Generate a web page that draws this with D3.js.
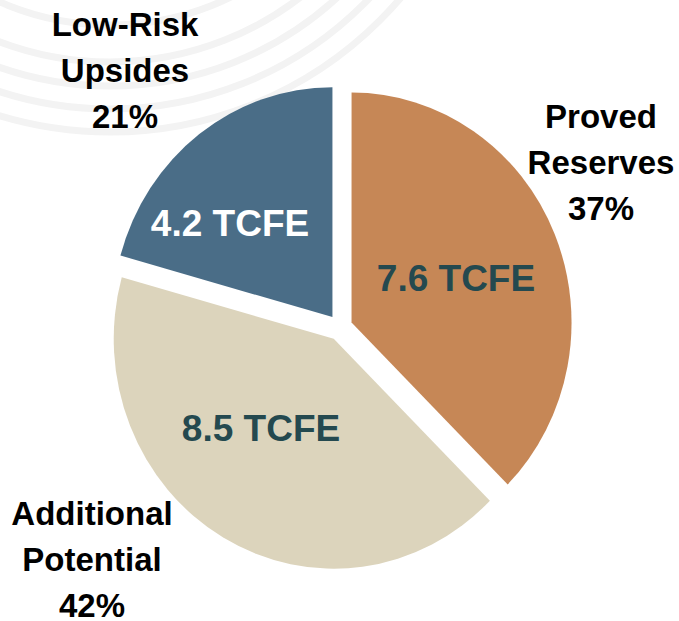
<!DOCTYPE html>
<html lang="en">
<head>
<meta charset="UTF-8">
<title>Resource split</title>
<script src="https://d3js.org/d3.v7.min.js"></script>
<style>
  html, body { margin: 0; padding: 0; background: #fff; }
  svg { display: block; }
  text { font-family: "Liberation Sans", Arial, sans-serif; font-weight: bold; }
</style>
</head>
<body>
<svg width="679" height="621"></svg>
<script>
// data
const categories = ["Proved Reserves", "Additional Potential", "Low-Risk Upsides"];
const volumes = [7.6, 8.5, 4.2];           // TCFE
const shares = [37, 42, 21];               // % labels as printed
const outerLines = [["Proved", "Reserves"], ["Additional", "Potential"], ["Low-Risk", "Upsides"]];

// look
const sliceColors = ["#c68756", "#dcd4bc", "#4a6d87"];
const innerColors = ["#24494f", "#24494f", "#ffffff"];
// label anchors, relative to pie centre
const innerPos = [[116, -37], [-79, 113], [-110, -92]];
const outerPos = [[261, -200], [-248, 197], [-215, -292]];

const svg = d3.select("svg");
const cx = 340, cy = 327.5, r = 220, explode = 12.5;

// faint watermark arcs
const wm = svg.append("g").attr("transform", "translate(110,-250)");
[275, 312, 336, 359, 382].forEach(rad => {
  wm.append("circle").attr("r", rad)
    .attr("fill", "none").attr("stroke", "#f3f3f3").attr("stroke-width", 7);
});

const pie = d3.pie().sort(null).value(d => d.v);
const arcs = pie(categories.map((c, i) => ({ name: c, v: volumes[i], i })));
const arc = d3.arc().innerRadius(0).outerRadius(r);

const g = svg.append("g").attr("transform", `translate(${cx},${cy})`);
const pieG = g.append("g").attr("transform", "scale(1,1.045)");

pieG.selectAll("path")
  .data(arcs)
  .join("path")
  .attr("d", arc)
  .attr("fill", d => sliceColors[d.data.i])
  .attr("transform", d => {
    const a = (d.startAngle + d.endAngle) / 2;
    return `translate(${Math.sin(a) * explode},${-Math.cos(a) * explode})`;
  });

// value labels inside slices
g.selectAll("text.inner")
  .data(arcs)
  .join("text")
  .attr("class", "inner")
  .attr("x", d => innerPos[d.data.i][0])
  .attr("y", d => innerPos[d.data.i][1])
  .attr("text-anchor", "middle")
  .attr("font-size", 37)
  .attr("fill", d => innerColors[d.data.i])
  .text(d => `${d3.format(".1f")(d.data.v)} TCFE`);

// category labels outside
const outer = g.selectAll("text.outer")
  .data(arcs)
  .join("text")
  .attr("class", "outer")
  .attr("text-anchor", "middle")
  .attr("font-size", 33)
  .attr("fill", "#000");

outer.each(function(d) {
  const t = d3.select(this);
  const [x, y] = outerPos[d.data.i];
  const lines = outerLines[d.data.i].concat([shares[d.data.i] + "%"]);
  lines.forEach((s, k) => {
    t.append("tspan").attr("x", x).attr("y", y + k * 46).text(s);
  });
});
</script>
</body>
</html>
